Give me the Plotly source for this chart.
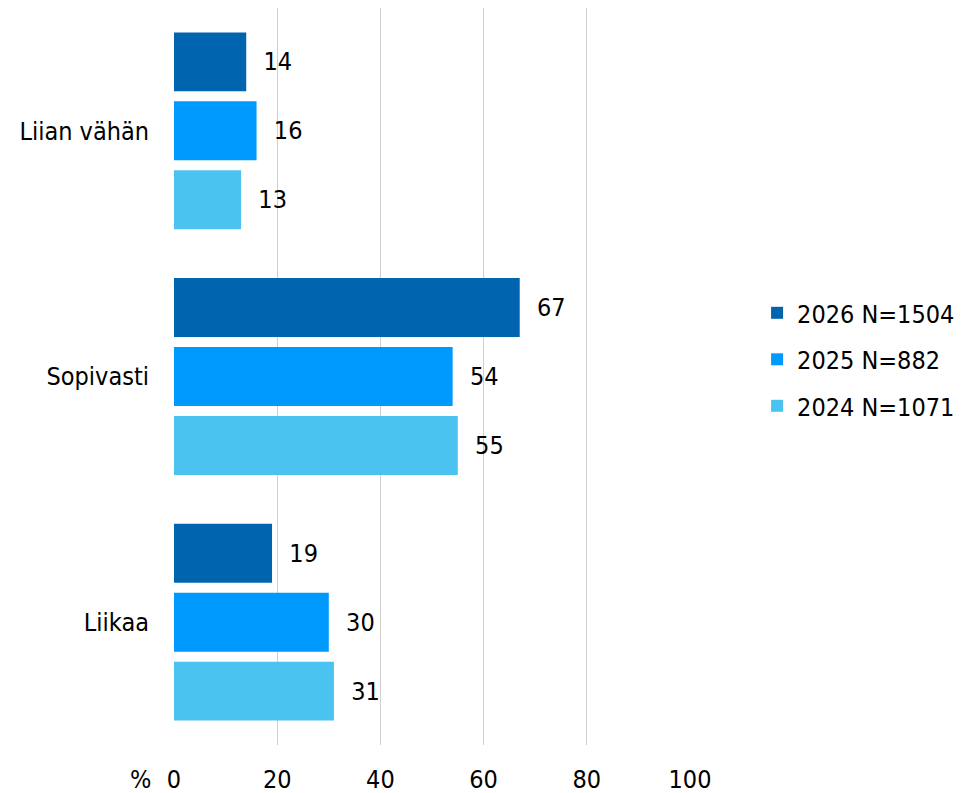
import plotly.graph_objects as go

categories = ["Liian vähän", "Sopivasti", "Liikaa"]
series_names = ["2026 N=1504", "2025 N=882", "2024 N=1071"]
values_2026 = [14, 67, 19]
values_2025 = [16, 54, 30]
values_2024 = [13, 55, 31]
x_ticks = [0, 20, 40, 60, 80, 100]

colors = ["#0064AE", "#009AFF", "#4BC3F0"]
FONT = "DejaVu Sans Condensed, DejaVu Sans"
FS = 25

fig = go.Figure()
for name, vals, col in zip(series_names, [values_2026, values_2025, values_2024], colors):
    fig.add_trace(go.Bar(
        y=categories, x=vals, name=name, orientation="h",
        marker=dict(color=col, line=dict(width=0)),
        text=vals, texttemplate="\u00a0\u00a0%{x}", textposition="outside",
        textfont=dict(family=FONT, size=FS, color="#000000"),
        cliponaxis=False, legendgroup=name,
    ))

fig.update_layout(
    width=955, height=785,
    margin=dict(l=166, r=273, t=0, b=48, autoexpand=False),
    paper_bgcolor="white", plot_bgcolor="white",
    barmode="group", bargap=0.158, bargroupgap=0.145,
    font=dict(family=FONT, size=FS, color="#000000"),
    showlegend=True,
    legend=dict(x=1.13, xanchor="left", y=0.523, yanchor="middle",
                traceorder="grouped", tracegroupgap=11,
                font=dict(family=FONT, size=FS, color="#000000"),
                bgcolor="rgba(0,0,0,0)"),
    xaxis=dict(range=[0, 100], tickvals=x_ticks, showgrid=True, gridcolor="#CFCFCF",
               gridwidth=1, zeroline=False, showline=False, ticks="", automargin=False,
               ticklabelstandoff=17, tickfont=dict(family=FONT, size=FS)),
    yaxis=dict(autorange="reversed", showgrid=False, zeroline=False, showline=False,
               ticks="", ticklabelstandoff=24, automargin=False,
               tickfont=dict(family=FONT, size=FS)),
    annotations=[dict(text="%", xref="paper", yref="paper", x=0, y=0,
                      xanchor="right", yanchor="middle", xshift=-21, yshift=-34,
                      showarrow=False, font=dict(family=FONT, size=FS))],
)

fig.write_html("out.html")
